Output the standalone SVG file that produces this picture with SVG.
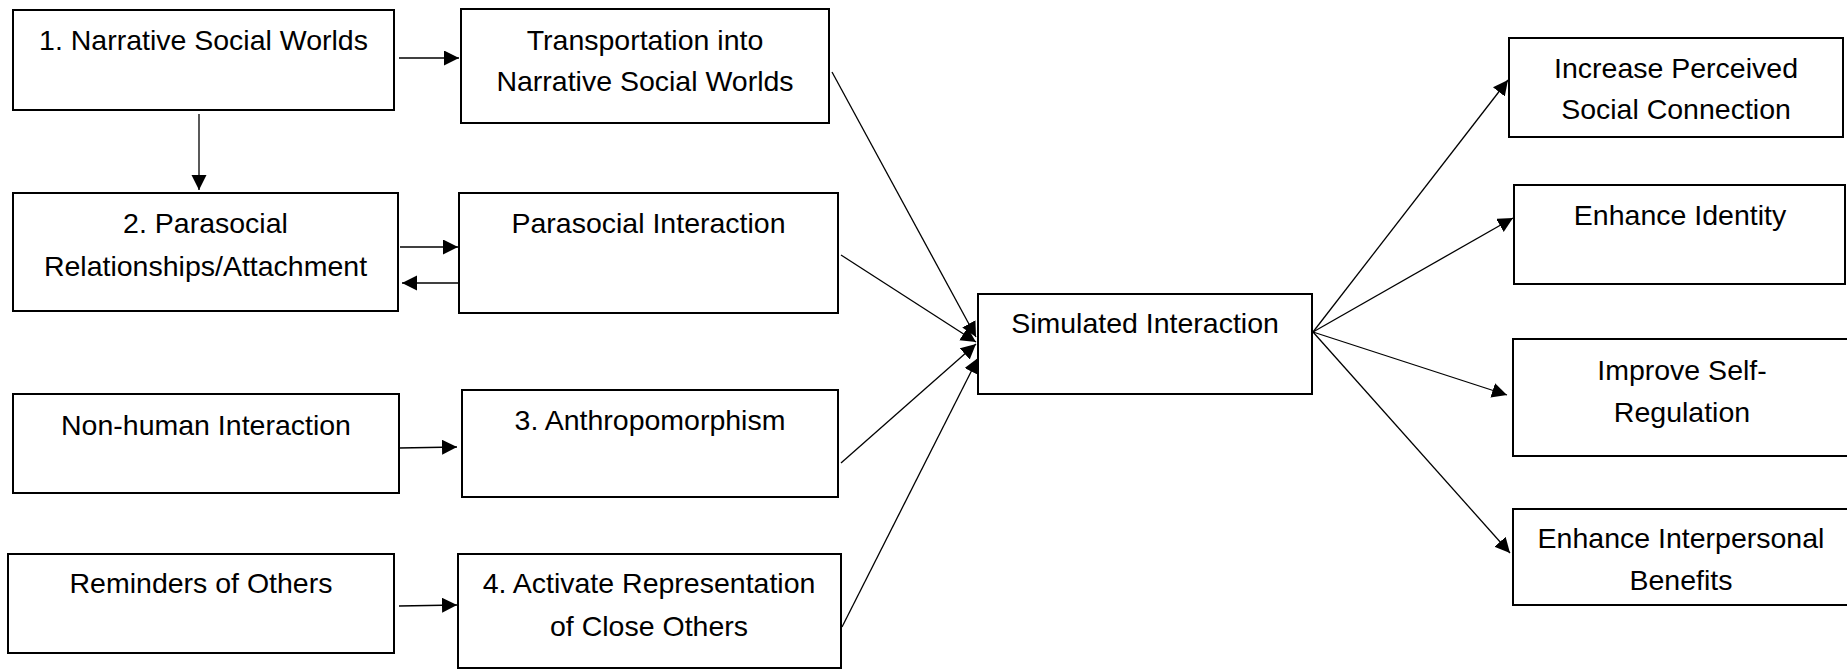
<svg xmlns="http://www.w3.org/2000/svg" width="1847" height="669" viewBox="0 0 1847 669">
<style>
.box{fill:#fff;stroke:#000;stroke-width:2}
.t{font-family:"Liberation Sans",Arial,sans-serif;font-size:28.5px;fill:#000;text-anchor:middle}
.c{stroke:#000;stroke-width:1.3;fill:none;marker-end:url(#ah)}
</style>
<defs>
<marker id="ah" markerUnits="userSpaceOnUse" markerWidth="16" markerHeight="16" refX="15" refY="7.5" orient="auto">
<path d="M0,0 L15,7.5 L0,15 z" fill="#000"/>
</marker>
</defs>
<rect width="1847" height="669" fill="#fff"/>
<g id="n1"><rect class="box" x="13" y="10" width="381" height="100"/><text class="t" x="203.5" y="50">1. Narrative Social Worlds</text></g>
<g id="n2"><rect class="box" x="13" y="193" width="385" height="118"/><text class="t" x="205.5" y="233">2. Parasocial</text><text class="t" x="205.5" y="276">Relationships/Attachment</text></g>
<g id="n3"><rect class="box" x="13" y="394" width="386" height="99"/><text class="t" x="206" y="435">Non-human Interaction</text></g>
<g id="n4"><rect class="box" x="8" y="554" width="386" height="99"/><text class="t" x="201" y="593">Reminders of Others</text></g>
<g id="n5"><rect class="box" x="461" y="9" width="368" height="114"/><text class="t" x="645" y="50">Transportation into</text><text class="t" x="645" y="91">Narrative Social Worlds</text></g>
<g id="n6"><rect class="box" x="459" y="193" width="379" height="120"/><text class="t" x="648.5" y="233">Parasocial Interaction</text></g>
<g id="n7"><rect class="box" x="462" y="390" width="376" height="107"/><text class="t" x="650" y="430">3. Anthropomorphism</text></g>
<g id="n8"><rect class="box" x="458" y="554" width="383" height="114"/><text class="t" x="649" y="593">4. Activate Representation</text><text class="t" x="649" y="636">of Close Others</text></g>
<g id="n9"><rect class="box" x="978" y="294" width="334" height="100"/><text class="t" x="1145" y="333">Simulated Interaction</text></g>
<g id="n10"><rect class="box" x="1509" y="38" width="334" height="99"/><text class="t" x="1676" y="78">Increase Perceived</text><text class="t" x="1676" y="119">Social Connection</text></g>
<g id="n11"><rect class="box" x="1514" y="185" width="331" height="99"/><text class="t" x="1680" y="225">Enhance Identity</text></g>
<g id="n12"><rect class="box" x="1513" y="339" width="338" height="117"/><text class="t" x="1682" y="380">Improve Self-</text><text class="t" x="1682" y="422">Regulation</text></g>
<g id="n13"><rect class="box" x="1513" y="509" width="338" height="96"/><text class="t" x="1681" y="548">Enhance Interpersonal</text><text class="t" x="1681" y="590">Benefits</text></g>
<g id="connectors">
<line class="c" x1="399" y1="58" x2="459" y2="58"/>
<line class="c" x1="199" y1="114" x2="199" y2="190"/>
<line class="c" x1="400" y1="247" x2="458" y2="247"/>
<line class="c" x1="459" y1="283" x2="402" y2="283"/>
<line class="c" x1="399" y1="448" x2="457" y2="447"/>
<line class="c" x1="399" y1="606" x2="457" y2="605"/>
<line class="c" x1="832" y1="72" x2="976" y2="337"/>
<line class="c" x1="841" y1="255" x2="976" y2="342"/>
<line class="c" x1="841" y1="463" x2="976" y2="344"/>
<line class="c" x1="842" y1="627" x2="978" y2="358"/>
<line class="c" x1="1313" y1="332" x2="1508" y2="80"/>
<line class="c" x1="1313" y1="332" x2="1513" y2="218"/>
<line class="c" x1="1313" y1="332" x2="1507" y2="395"/>
<line class="c" x1="1313" y1="332" x2="1510" y2="553"/>
</g>
</svg>
